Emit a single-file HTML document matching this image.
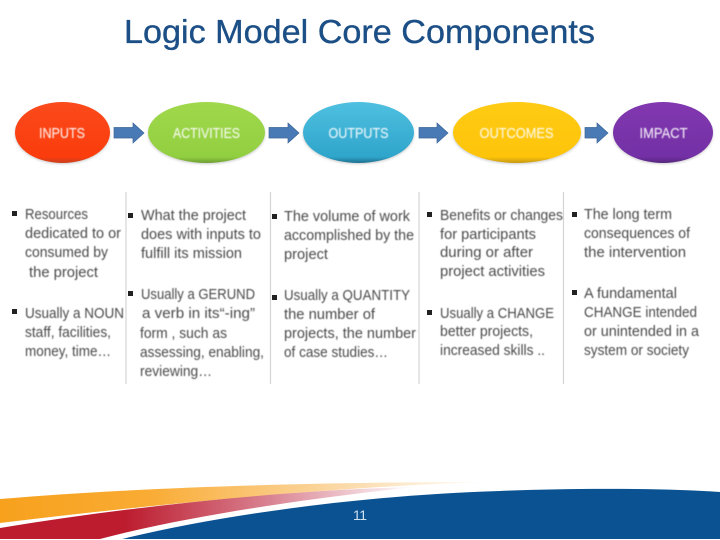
<!DOCTYPE html>
<html>
<head>
<meta charset="utf-8">
<style>
html,body{margin:0;padding:0;background:#fff;width:720px;height:540px;overflow:hidden}
svg{display:block}
.t{font-family:"Liberation Sans",sans-serif;font-size:14.5px;fill:#4a4a4a}
.l{font-family:"Liberation Sans",sans-serif;font-size:15px;fill:#fff;fill-opacity:.85;stroke:#fff;stroke-opacity:.5;stroke-width:.3;text-anchor:middle}
</style>
</head>
<body>
<svg width="720" height="540" viewBox="0 0 720 540" xmlns="http://www.w3.org/2000/svg">
<defs>
<linearGradient id="go" x1="0" x2="1" y1="0" y2="0"><stop offset="0" stop-color="#f7a11d"/><stop offset=".3" stop-color="#f9ab33"/><stop offset=".72" stop-color="#fbdcae"/><stop offset="1" stop-color="#fff"/></linearGradient>
<linearGradient id="gr" x1="0" x2="1" y1="0" y2="0"><stop offset="0" stop-color="#bc1c2e"/><stop offset=".3" stop-color="#bc1c2e"/><stop offset=".65" stop-color="#d98392"/><stop offset="1" stop-color="#fff"/></linearGradient>
<linearGradient id="e1" x1="0" x2="0" y1="0" y2="1"><stop offset="0" stop-color="#fb4a1c"/><stop offset=".9" stop-color="#fb3c0c"/><stop offset="1" stop-color="#c8401f"/></linearGradient>
<linearGradient id="e2" x1="0" x2="0" y1="0" y2="1"><stop offset="0" stop-color="#a0d84c"/><stop offset=".9" stop-color="#92cf40"/><stop offset="1" stop-color="#6f9e35"/></linearGradient>
<linearGradient id="e3" x1="0" x2="0" y1="0" y2="1"><stop offset="0" stop-color="#4fc0e0"/><stop offset=".9" stop-color="#2fa5cb"/><stop offset="1" stop-color="#20708f"/></linearGradient>
<linearGradient id="e4" x1="0" x2="0" y1="0" y2="1"><stop offset="0" stop-color="#ffcb14"/><stop offset=".9" stop-color="#fdc40a"/><stop offset="1" stop-color="#c79a12"/></linearGradient>
<linearGradient id="e5" x1="0" x2="0" y1="0" y2="1"><stop offset="0" stop-color="#8238b0"/><stop offset=".9" stop-color="#7330a5"/><stop offset="1" stop-color="#55257a"/></linearGradient>
<filter id="b" x="-5%" y="-5%" width="110%" height="110%"><feGaussianBlur stdDeviation="0.4"/></filter>
<filter id="s" x="-10%" y="-10%" width="120%" height="125%"><feGaussianBlur stdDeviation="1.2"/></filter>
</defs>

<text x="124" y="43" font-family="Liberation Sans, sans-serif" font-size="33" fill="#1c4f86" stroke="#1c4f86" stroke-width=".35" textLength="471" lengthAdjust="spacingAndGlyphs">Logic Model Core Components</text>

<!-- ellipses -->
<g fill="#999" opacity=".5" filter="url(#s)">
<ellipse cx="62.5" cy="134" rx="47.5" ry="30"/>
<ellipse cx="206.500" cy="134" rx="58.500" ry="30"/>
<ellipse cx="358.500" cy="134" rx="55.500" ry="30"/>
<ellipse cx="517" cy="134" rx="64" ry="30"/>
<ellipse cx="663" cy="134" rx="50" ry="30"/>
</g>
<ellipse cx="62.500" cy="132.500" rx="47.500" ry="30.500" fill="url(#e1)"/>
<ellipse cx="206.500" cy="132.500" rx="58.500" ry="30.500" fill="url(#e2)"/>
<ellipse cx="358.500" cy="132.500" rx="55.500" ry="30.500" fill="url(#e3)"/>
<ellipse cx="517" cy="132.500" rx="64" ry="30.500" fill="url(#e4)"/>
<ellipse cx="663" cy="132.500" rx="50" ry="30.500" fill="url(#e5)"/>

<g filter="url(#b)">
<text class="l" x="62" y="138" textLength="46" lengthAdjust="spacingAndGlyphs">INPUTS</text>
<text class="l" x="206.500" y="138" textLength="67" lengthAdjust="spacingAndGlyphs">ACTIVITIES</text>
<text class="l" x="358.500" y="138" textLength="60" lengthAdjust="spacingAndGlyphs">OUTPUTS</text>
<text class="l" x="516.500" y="138" textLength="74" lengthAdjust="spacingAndGlyphs">OUTCOMES</text>
<text class="l" x="663.500" y="138" textLength="48" lengthAdjust="spacingAndGlyphs">IMPACT</text>
</g>

<!-- arrows -->
<g fill="#4a7ab5" stroke="#3a6496" stroke-width=".7">
<polygon points="114,127.500 133,127.500 133,123 144,133 133,143 133,138 114,138"/>
<polygon points="269,127.500 288,127.500 288,123 299,133 288,143 288,138 269,138"/>
<polygon points="419,127.500 437,127.500 437,123 448,133 437,143 437,138 419,138"/>
<polygon points="585,127.500 597,127.500 597,123 608,133 597,143 597,138 585,138"/>
</g>

<!-- separators -->
<g stroke="#d4d4d4" stroke-width="1.2">
<line x1="126" y1="192" x2="126" y2="384"/>
<line x1="270.500" y1="192" x2="270.500" y2="384"/>
<line x1="419" y1="192" x2="419" y2="384"/>
<line x1="563.500" y1="192" x2="563.500" y2="384"/>
</g>

<!-- bullets -->
<g fill="#222">
<rect x="12" y="211" width="5" height="5"/>
<rect x="12" y="309" width="5" height="5"/>
<rect x="128" y="213" width="5" height="5"/>
<rect x="128" y="291" width="5" height="5"/>
<rect x="272" y="214" width="5" height="5"/>
<rect x="272" y="295" width="5" height="5"/>
<rect x="427" y="212" width="5" height="5"/>
<rect x="427" y="310" width="5" height="5"/>
<rect x="572" y="212" width="5" height="5"/>
<rect x="572" y="290" width="5" height="5"/>
</g>

<g filter="url(#b)">
<text class="t" x="25" y="219" textLength="63" lengthAdjust="spacingAndGlyphs">Resources</text>
<text class="t" x="25" y="238" textLength="96" lengthAdjust="spacingAndGlyphs">dedicated to or</text>
<text class="t" x="25" y="257" textLength="83" lengthAdjust="spacingAndGlyphs">consumed by</text>
<text class="t" x="29" y="277" textLength="69" lengthAdjust="spacingAndGlyphs">the project</text>
<text class="t" x="25" y="318" textLength="99" lengthAdjust="spacingAndGlyphs">Usually a NOUN</text>
<text class="t" x="25" y="337" textLength="86" lengthAdjust="spacingAndGlyphs">staff, facilities,</text>
<text class="t" x="25" y="356" textLength="86" lengthAdjust="spacingAndGlyphs">money, time…</text>

<text class="t" x="141" y="220" textLength="105" lengthAdjust="spacingAndGlyphs">What the project</text>
<text class="t" x="141" y="239" textLength="120" lengthAdjust="spacingAndGlyphs">does with inputs to</text>
<text class="t" x="141" y="258" textLength="101" lengthAdjust="spacingAndGlyphs">fulfill its mission</text>
<text class="t" x="141" y="299" textLength="114" lengthAdjust="spacingAndGlyphs">Usually a GERUND</text>
<text class="t" x="142" y="318" textLength="113" lengthAdjust="spacingAndGlyphs">a verb  in its“-ing”</text>
<text class="t" x="140" y="338" textLength="87" lengthAdjust="spacingAndGlyphs">form , such as</text>
<text class="t" x="140" y="357" textLength="124" lengthAdjust="spacingAndGlyphs">assessing, enabling,</text>
<text class="t" x="140" y="376" textLength="72" lengthAdjust="spacingAndGlyphs">reviewing…</text>

<text class="t" x="284" y="221" textLength="126" lengthAdjust="spacingAndGlyphs">The volume of work</text>
<text class="t" x="284" y="240" textLength="130" lengthAdjust="spacingAndGlyphs">accomplished by the</text>
<text class="t" x="284" y="259" textLength="44" lengthAdjust="spacingAndGlyphs">project</text>
<text class="t" x="284" y="300" textLength="126" lengthAdjust="spacingAndGlyphs">Usually a QUANTITY</text>
<text class="t" x="284" y="319" textLength="91" lengthAdjust="spacingAndGlyphs">the number of</text>
<text class="t" x="284" y="338" textLength="132" lengthAdjust="spacingAndGlyphs">projects, the number</text>
<text class="t" x="284" y="357" textLength="104" lengthAdjust="spacingAndGlyphs">of case studies…</text>

<text class="t" x="440" y="220" textLength="123" lengthAdjust="spacingAndGlyphs">Benefits or changes</text>
<text class="t" x="440" y="239" textLength="96" lengthAdjust="spacingAndGlyphs">for participants</text>
<text class="t" x="440" y="257" textLength="93" lengthAdjust="spacingAndGlyphs">during or after</text>
<text class="t" x="440" y="276" textLength="105" lengthAdjust="spacingAndGlyphs">project activities</text>
<text class="t" x="440" y="318" textLength="114" lengthAdjust="spacingAndGlyphs">Usually a CHANGE</text>
<text class="t" x="440" y="336" textLength="93" lengthAdjust="spacingAndGlyphs">better projects,</text>
<text class="t" x="440" y="355" textLength="105" lengthAdjust="spacingAndGlyphs">increased skills ..</text>

<text class="t" x="584" y="219" textLength="88" lengthAdjust="spacingAndGlyphs">The long term</text>
<text class="t" x="584" y="238" textLength="106" lengthAdjust="spacingAndGlyphs">consequences  of</text>
<text class="t" x="584" y="257" textLength="102" lengthAdjust="spacingAndGlyphs">the intervention</text>
<text class="t" x="584" y="298" textLength="93" lengthAdjust="spacingAndGlyphs">A fundamental</text>
<text class="t" x="584" y="317" textLength="113" lengthAdjust="spacingAndGlyphs">CHANGE intended</text>
<text class="t" x="584" y="336" textLength="115" lengthAdjust="spacingAndGlyphs">or unintended in a</text>
<text class="t" x="584" y="355" textLength="105" lengthAdjust="spacingAndGlyphs">system or society</text>
</g>

<!-- footer swoosh -->
<path d="M0,499 C130,488 300,482 490,482 C370,485 190,500 0,523 Z" fill="url(#go)"/>
<path d="M0,528 C140,505 290,490 415,487 C320,497 190,515 100,539 L0,539 Z" fill="url(#gr)"/>
<path d="M122,539 C230,513 370,495 500,491 C570,488 660,488 720,492 L720,539 Z" fill="#0b5292"/>

<text x="353" y="520" font-family="Liberation Sans, sans-serif" font-size="14" fill="#cfe0ef" textLength="14" lengthAdjust="spacing">11</text>
</svg>
</body>
</html>
